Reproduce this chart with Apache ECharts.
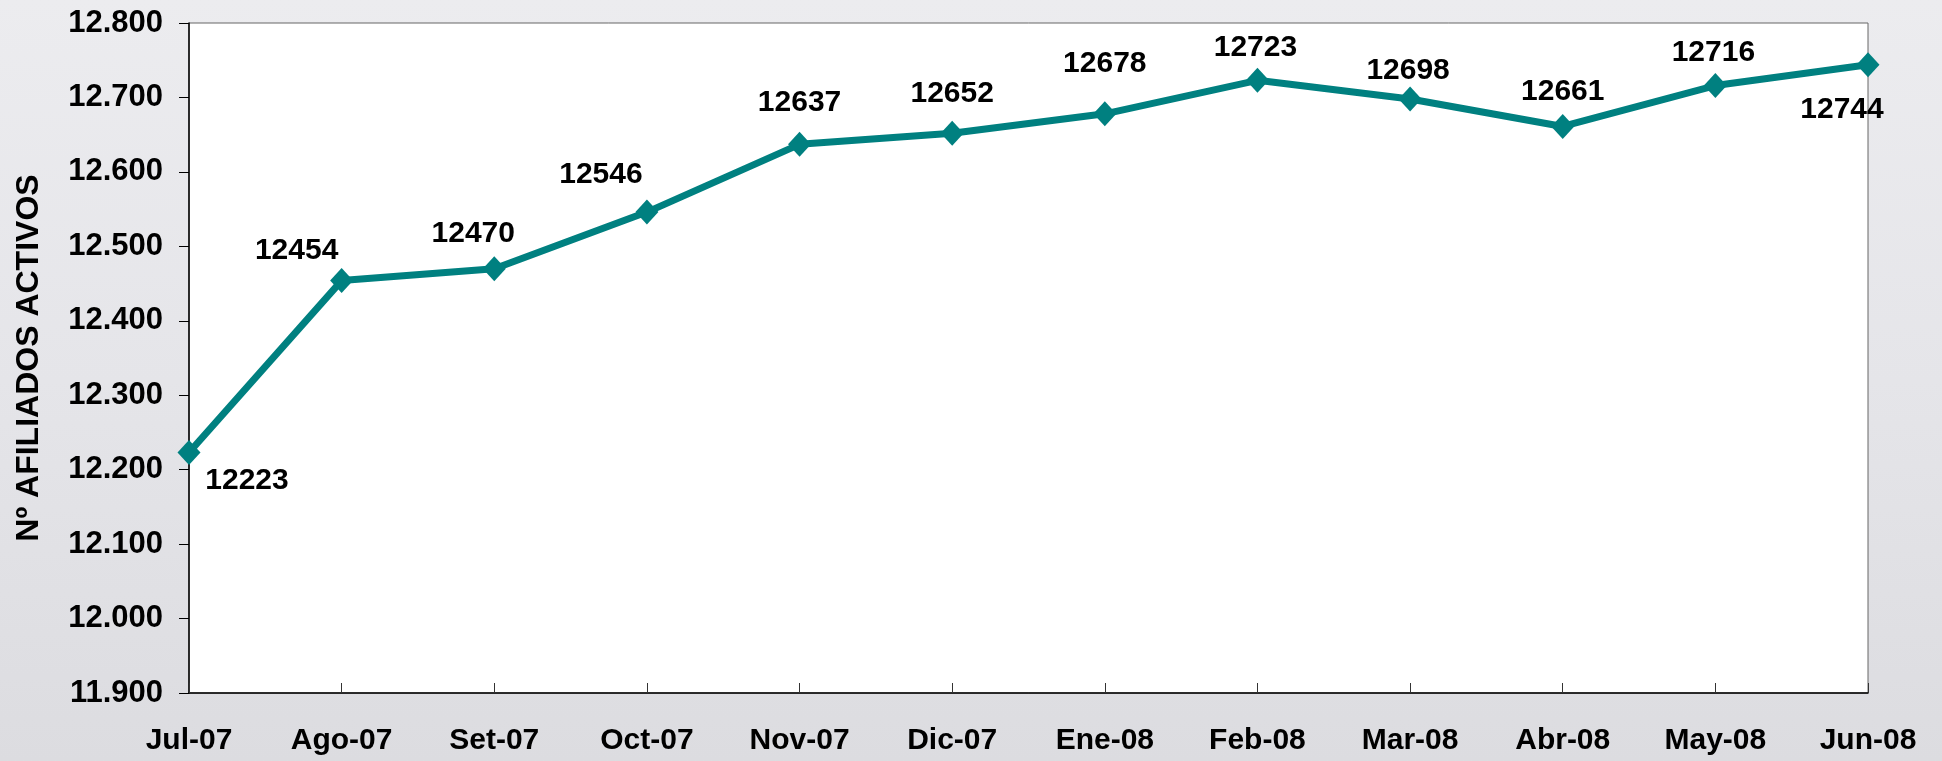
<!DOCTYPE html>
<html><head><meta charset="utf-8">
<script src="https://cdn.jsdelivr.net/npm/echarts@6/dist/echarts.min.js"></script>
<style>html,body{margin:0;padding:0;}#c{width:1942px;height:761px;}</style>
</head><body><div id="c"></div>
<script>
const categories = ['Jul-07','Ago-07','Set-07','Oct-07','Nov-07','Dic-07','Ene-08','Feb-08','Mar-08','Abr-08','May-08','Jun-08'];
const afiliados = [12223,12454,12470,12546,12637,12652,12678,12723,12698,12661,12716,12744];
const yAxisName = 'Nº AFILIADOS ACTIVOS';
const yMin = 11900, yMax = 12800, yStep = 100;

// label placement (style only)
const labelOffsets = [[58,28],[-45,-30],[-21,-35],[-46,-37],[0,-42],[0,-39],[0,-50],[-2,-33],[-2,-28],[0,-35],[-2,-33],[-26,45]];

function fmt(v){ const t=Math.floor(v/1000), r=v%1000; return t+'.'+String(r).padStart(3,'0'); }

const chart = echarts.init(document.getElementById('c'));
chart.setOption({
  backgroundColor: {type:'linear',x:0,y:0,x2:0,y2:1,colorStops:[{offset:0,color:'#ececef'},{offset:0.5,color:'#e5e5e9'},{offset:1,color:'#dcdce0'}]},
  animation:false,
  grid:{left:189,right:74,top:23,bottom:68,show:true,backgroundColor:'#ffffff',borderColor:'#666',borderWidth:1},
  xAxis:{type:'category',data:categories,boundaryGap:false,
    axisLine:{lineStyle:{color:'#000',width:1.5}},
    axisTick:{inside:true,length:10,lineStyle:{color:'#333'}},
    axisLabel:{color:'#000',fontFamily:'Liberation Sans, Arial',fontWeight:'bold',fontSize:30,margin:33},
    splitLine:{show:false}},
  yAxis:{type:'value',min:yMin,max:yMax,interval:yStep,
    name:yAxisName,nameLocation:'middle',nameGap:144,
    nameTextStyle:{color:'#000',fontFamily:'Liberation Sans, Arial',fontWeight:'bold',fontSize:32},
    axisLine:{show:true,lineStyle:{color:'#000',width:1.5}},
    axisTick:{show:true,length:10,lineStyle:{color:'#000'}},
    axisLabel:{color:'#000',fontFamily:'Liberation Sans, Arial',fontWeight:'bold',fontSize:31,margin:26,formatter:fmt},
    splitLine:{show:false}},
  series:[{type:'line',data:afiliados.map((v,i)=>({value:v,label:{offset:labelOffsets[i]}})),
    lineStyle:{color:'#008080',width:7},
    itemStyle:{color:'#008080'},
    symbol:'diamond',symbolSize:[23,25],
    label:{show:true,position:'inside',color:'#000',fontFamily:'Liberation Sans, Arial',fontWeight:'bold',fontSize:30,align:'center',verticalAlign:'middle'},
    z:5}]
});
</script></body></html>
